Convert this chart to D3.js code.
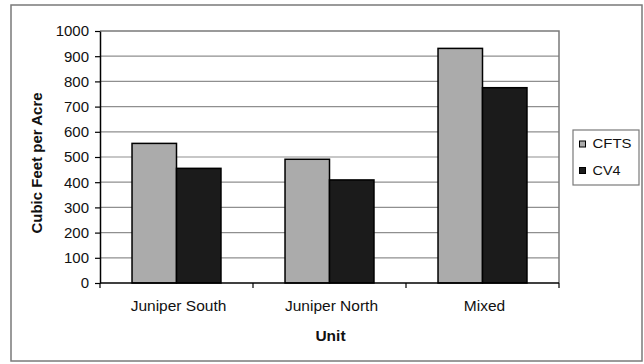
<!DOCTYPE html>
<html>
<head>
<meta charset="utf-8">
<script src="https://cdn.jsdelivr.net/npm/d3@7"></script>
<style>
  html, body { margin: 0; padding: 0; background: #fff; }
  svg { display: block; font-family: "Liberation Sans", Arial, sans-serif; }
</style>
</head>
<body>
<svg id="chart" width="644" height="364"></svg>
<script>
// Volume per acre by management unit, two estimation methods
const units = ["Juniper South", "Juniper North", "Mixed"];
const seriesNames = ["CFTS", "CV4"];
const cftsValues = [554, 491, 931];
const cv4Values = [455, 409, 775];
const yTickValues = [0, 100, 200, 300, 400, 500, 600, 700, 800, 900, 1000];
const seriesColors = ["#ababab", "#1b1b1b"];

const svg = d3.select("#chart");
const plot = { left: 100, top: 31, right: 559, bottom: 283 };

// outer chart frame
svg.append("rect")
  .attr("x", 11).attr("y", 5).attr("width", 631).attr("height", 356)
  .attr("fill", "#fff").attr("stroke", "#7a7a7a").attr("stroke-width", 1.5);

const x0 = d3.scaleBand().domain(units).range([plot.left, plot.right]).paddingInner(0).paddingOuter(0);
const x1 = d3.scaleBand().domain(seriesNames).range([0, x0.bandwidth()]).paddingInner(0).paddingOuter(0.72);
const y = d3.scaleLinear().domain([0, 1000]).range([plot.bottom, plot.top]);

// gridlines
svg.append("g").selectAll("line")
  .data(yTickValues.filter(v => v > 0 && v < 1000))
  .join("line")
  .attr("x1", plot.left).attr("x2", plot.right)
  .attr("y1", d => y(d)).attr("y2", d => y(d))
  .attr("stroke", "#8f8f8f").attr("stroke-width", 1.2);

// plot area top and right border
svg.append("path")
  .attr("d", `M${plot.left},${y(1000)}H${plot.right}V${plot.bottom}`)
  .attr("fill", "none").attr("stroke", "#7a7a7a").attr("stroke-width", 1.5);

// bars
const rows = units.map((u, i) => ({ unit: u, values: [cftsValues[i], cv4Values[i]] }));
svg.append("g").selectAll("g")
  .data(rows)
  .join("g")
  .attr("transform", d => `translate(${x0(d.unit)},0)`)
  .selectAll("rect")
  .data(d => d.values.map((v, j) => ({ key: seriesNames[j], value: v, color: seriesColors[j] })))
  .join("rect")
  .attr("x", d => x1(d.key))
  .attr("width", x1.bandwidth())
  .attr("y", d => y(d.value))
  .attr("height", d => y(0) - y(d.value))
  .attr("fill", d => d.color)
  .attr("stroke", "#000").attr("stroke-width", 1.5);

// y axis
const yAxis = svg.append("g")
  .attr("transform", `translate(${plot.left},0)`)
  .call(d3.axisLeft(y).tickValues(yTickValues).tickFormat(d3.format("d"))
    .tickSize(5).tickPadding(6).tickSizeOuter(0));
yAxis.select(".domain").attr("stroke", "#000").attr("stroke-width", 1.5);
yAxis.selectAll(".tick line").attr("stroke", "#000").attr("stroke-width", 1.2);
yAxis.selectAll(".tick text")
  .attr("font-size", 15).attr("fill", "#111")
  .attr("font-family", "Liberation Sans, Arial, sans-serif");

// x axis with ticks between categories
const xAxisG = svg.append("g").attr("transform", `translate(0,${plot.bottom})`);
xAxisG.append("line")
  .attr("x1", plot.left).attr("x2", plot.right)
  .attr("stroke", "#000").attr("stroke-width", 1.5);
const boundaries = units.map(u => x0(u)).concat([x0(units[units.length - 1]) + x0.bandwidth()]);
xAxisG.selectAll("line.tk")
  .data(boundaries)
  .join("line").attr("class", "tk")
  .attr("x1", d => d).attr("x2", d => d)
  .attr("y1", 0).attr("y2", 5)
  .attr("stroke", "#000").attr("stroke-width", 1.2);
xAxisG.selectAll("text")
  .data(units)
  .join("text")
  .attr("x", d => x0(d) + x0.bandwidth() / 2 + 2)
  .attr("y", 28)
  .attr("text-anchor", "middle")
  .attr("font-size", 15.5).attr("fill", "#111")
  .text(d => d);

// axis titles
svg.append("text")
  .attr("x", (plot.left + plot.right) / 2 + 1).attr("y", 341)
  .attr("text-anchor", "middle")
  .attr("font-size", 15.5).attr("font-weight", "bold").attr("fill", "#111")
  .text("Unit");
svg.append("text")
  .attr("transform", `translate(42,${(plot.top + plot.bottom) / 2 + 6}) rotate(-90)`)
  .attr("text-anchor", "middle")
  .attr("font-size", 15).attr("font-weight", "bold").attr("fill", "#111")
  .text("Cubic Feet per Acre");

// legend
const legend = svg.append("g");
legend.append("rect")
  .attr("x", 573).attr("y", 130).attr("width", 66).attr("height", 55)
  .attr("fill", "#fff").attr("stroke", "#7a7a7a").attr("stroke-width", 1.2);
const items = legend.selectAll("g.item")
  .data(seriesNames)
  .join("g").attr("class", "item")
  .attr("transform", (d, i) => `translate(0,${i * 26.5})`);
items.append("rect")
  .attr("x", 579.5).attr("y", 141).attr("width", 6).attr("height", 6)
  .attr("fill", (d, i) => seriesColors[i])
  .attr("stroke", "#000").attr("stroke-width", 1);
items.append("text")
  .attr("x", 592.5).attr("y", 148)
  .attr("font-size", 12).attr("fill", "#111")
  .attr("textLength", d => d === "CFTS" ? 39 : 28)
  .attr("lengthAdjust", "spacingAndGlyphs")
  .text(d => d);
</script>
</body>
</html>
